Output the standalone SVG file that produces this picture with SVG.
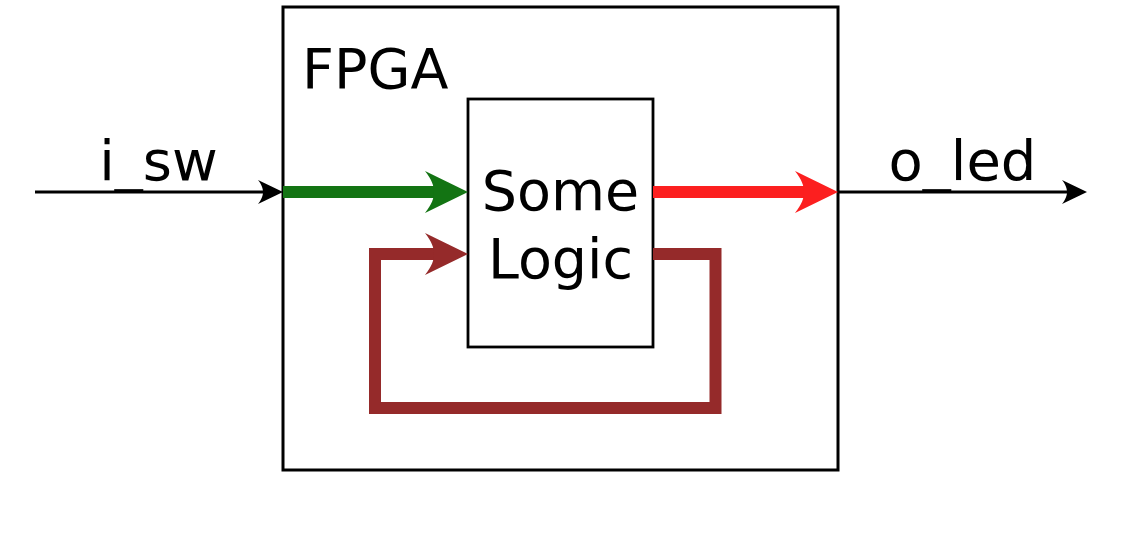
<svg xmlns="http://www.w3.org/2000/svg" xmlns:xlink="http://www.w3.org/1999/xlink" width="1128" height="537" viewBox="0 0 1128 537">
<style>
  text { font-family: "DejaVu Sans", "Liberation Sans", sans-serif; fill: #000; }
  .box { fill: #fff; stroke: #000; }
  .wire { fill: none; stroke-linecap: butt; stroke-linejoin: miter; }
</style>
<defs>
  <path id="bighead" d="M0,0 L-43,-21 C-36,-12 -34,-6 -34,0 C-34,6 -36,12 -43,21 Z"/>
  <path id="smallhead" d="M0,0 L-25,-12 C-21,-7 -20,-3 -20,0 C-20,3 -21,7 -25,12 Z"/>
</defs>
<rect width="1128" height="537" fill="#fff"/>
<g id="fpga">
  <rect class="box" x="283" y="7" width="555" height="463" stroke-width="3"/>
  <text x="302" y="88" font-size="55.5">FPGA</text>
</g>
<g id="logic">
  <rect class="box" x="468" y="99" width="185" height="248" stroke-width="2.8"/>
  <text x="560.5" y="210" font-size="55.5" text-anchor="middle">Some</text>
  <text x="560.5" y="278" font-size="55.5" text-anchor="middle">Logic</text>
</g>
<g id="i_sw">
  <text x="158.5" y="180" font-size="56" text-anchor="middle">i_sw</text>
</g>
<g id="o_led">
  <text x="962.5" y="180" font-size="56" text-anchor="middle">o_led</text>
</g>
<g id="connectors">
  <line class="wire" x1="35" y1="192" x2="265" y2="192" stroke="#000" stroke-width="3"/>
  <use xlink:href="#smallhead" transform="translate(283,192)" fill="#000"/>
  <line class="wire" x1="283" y1="192" x2="436" y2="192" stroke="#137413" stroke-width="12"/>
  <use xlink:href="#bighead" transform="translate(468,192)" fill="#137413"/>
  <line class="wire" x1="653" y1="192" x2="806" y2="192" stroke="#fc1f1f" stroke-width="12"/>
  <use xlink:href="#bighead" transform="translate(838,192)" fill="#fc1f1f"/>
  <line class="wire" x1="838" y1="192" x2="1068" y2="192" stroke="#000" stroke-width="3"/>
  <use xlink:href="#smallhead" transform="translate(1087,192)" fill="#000"/>
  <path class="wire" d="M653,254 H715.5 V408 H375 V254 H436" stroke="#952a2a" stroke-width="12"/>
  <use xlink:href="#bighead" transform="translate(468,254)" fill="#952a2a"/>
</g>
</svg>
